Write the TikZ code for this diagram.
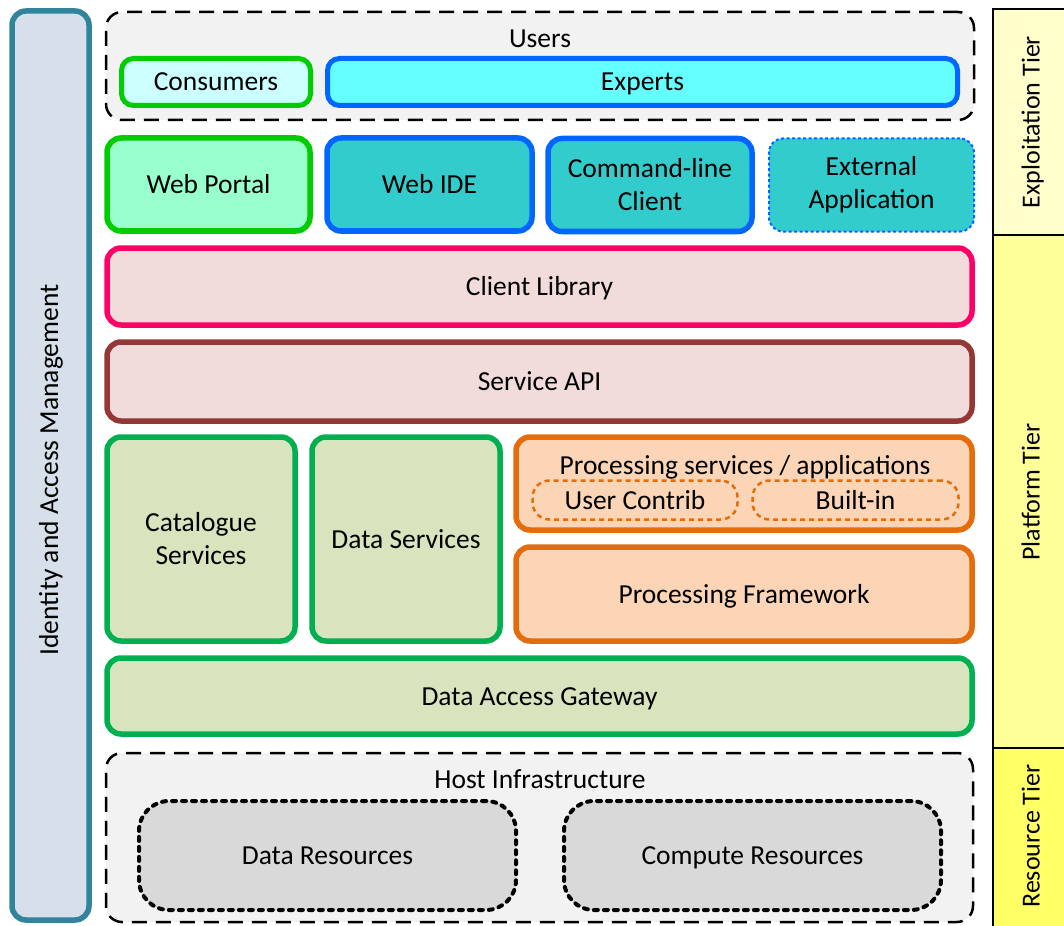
\documentclass[tikz,border=0pt]{standalone}
\usepackage{fontspec}
\setmainfont{Carlito}
\begin{document}
\begin{tikzpicture}[x=1pt,y=-1pt,
  every node/.style={font=\fontsize{27.5}{33}\selectfont, align=center, inner sep=0pt},
  one/.style={text height=18pt, text depth=0pt},
  box/.style={draw, rounded corners=14pt, line width=5.5pt},
  dashbox/.style={draw=black, fill=grey1, rounded corners=16pt, line width=2.5pt, dash pattern=on 15pt off 9pt},
  tier/.style={draw=black, line width=2pt},
  tiertext/.style={rotate=90, font=\fontsize{26}{30}\selectfont, text height=17pt, text depth=0pt}
]
\definecolor{grey1}{HTML}{F2F2F2}
\definecolor{iamfill}{HTML}{D6DFEA}
\definecolor{iamdraw}{HTML}{31849B}
\definecolor{consfill}{HTML}{CCFFFF}
\definecolor{brightgreen}{HTML}{00CC00}
\definecolor{expfill}{HTML}{66FFFF}
\definecolor{blue1}{HTML}{0066FF}
\definecolor{portfill}{HTML}{99FFCC}
\definecolor{tealfill}{HTML}{33CCCC}
\definecolor{pinkfill}{HTML}{F2DCDB}
\definecolor{pinkdraw}{HTML}{FF0066}
\definecolor{browndraw}{HTML}{953735}
\definecolor{greenfill}{HTML}{D7E4BD}
\definecolor{greendraw}{HTML}{00B050}
\definecolor{orfill}{HTML}{FBD5B5}
\definecolor{ordraw}{HTML}{E46C0A}
\definecolor{resfill}{HTML}{D9D9D9}
\definecolor{tierA}{HTML}{FFFFCC}
\definecolor{tierB}{HTML}{FFFF99}
\definecolor{tierC}{HTML}{FFFF66}

\useasboundingbox (0,0) rectangle (1064,925);

% tiers
\path[tier, fill=tierA] (993,9) rectangle (1070,235);
\path[tier, fill=tierB] (993,235) rectangle (1070,748);
\path[tier, fill=tierC] (993,748) rectangle (1070,930);
\node[tiertext] (t1) at (1031,122) {Exploitation Tier};
\node[tiertext] (t2) at (1031,492) {Platform Tier};
\node[tiertext] (t3) at (1031,836) {Resource Tier};

% IAM
\node[box, draw=iamdraw, fill=iamfill, minimum width=77pt, minimum height=909pt] (iam) at (50.5,465.5) {};
\node[rotate=90] (iamt) at (51,470) {Identity and Access Management};

% Users
\node[dashbox, minimum width=868pt, minimum height=108pt] (users) at (540,66) {};
\node[one] (userst) at (540,39) {Users};
\node[one, box, rounded corners=12pt, line width=5pt, draw=brightgreen, fill=consfill, minimum width=189pt, minimum height=47pt] (cons) at (216,82) {Consumers};
\node[one, box, rounded corners=12pt, line width=5pt, draw=blue1, fill=expfill, minimum width=630pt, minimum height=47pt] (exp) at (642.5,82) {Experts};

% clients
\node[one, box, draw=brightgreen, fill=portfill, minimum width=203pt, minimum height=93pt] (portal) at (208.5,184.5) {Web Portal};
\node[one, box, draw=blue1, fill=tealfill, minimum width=205pt, minimum height=93pt] (ide) at (429.5,184.5) {Web IDE};
\node[box, draw=blue1, fill=tealfill, minimum width=204pt, minimum height=93pt] (cli) at (650,185) {Command-line\\Client};
\node[draw=blue1, fill=tealfill, rounded corners=14pt, line width=2pt, dash pattern=on 3pt off 2.5pt, minimum width=205pt, minimum height=93pt] (ext) at (871.5,185) {External\\Application};

% libraries
\node[one, box, draw=pinkdraw, fill=pinkfill, minimum width=865pt, minimum height=77pt] (clib) at (539.5,286.5) {Client Library};
\node[one, box, draw=browndraw, fill=pinkfill, minimum width=865pt, minimum height=79pt] (api) at (539.5,381.5) {Service API};

% services
\node[box, draw=greendraw, fill=greenfill, minimum width=188pt, minimum height=204pt] (cat) at (201,539) {Catalogue\\Services};
\node[one, box, draw=greendraw, fill=greenfill, minimum width=188pt, minimum height=204pt] (data) at (406,539) {Data Services};
\node[box, draw=ordraw, fill=orfill, minimum width=456pt, minimum height=93pt] (proc) at (744,483.5) {};
\node[one] (proct) at (745,465) {Processing services / applications};
\node[one, draw=ordraw, rounded corners=17pt, line width=2.5pt, dash pattern=on 5pt off 4pt, minimum width=205pt, minimum height=39pt] (uc) at (635,500) {User Contrib};
\node[one, draw=ordraw, rounded corners=17pt, line width=2.5pt, dash pattern=on 5pt off 4pt, minimum width=206pt, minimum height=39pt] (bi) at (855.5,500) {Built-in};
\node[one, box, draw=ordraw, fill=orfill, minimum width=456pt, minimum height=94pt] (pf) at (744,594) {Processing Framework};
\node[one, box, draw=greendraw, fill=greenfill, minimum width=865pt, minimum height=76pt] (dag) at (539.5,696) {Data Access Gateway};

% host
\node[dashbox, minimum width=867pt, minimum height=169pt] (host) at (539.5,837.5) {};
\node[one] (hostt) at (540,779) {Host Infrastructure};
\node[one, draw=black, fill=resfill, rounded corners=30pt, line width=4pt, line cap=round, dash pattern=on 4pt off 6pt, minimum width=377pt, minimum height=109pt] (dres) at (327.5,855.5) {Data Resources};
\node[one, draw=black, fill=resfill, rounded corners=30pt, line width=4pt, line cap=round, dash pattern=on 4pt off 6pt, minimum width=377pt, minimum height=109pt] (cres) at (752.5,855.5) {Compute Resources};
\end{tikzpicture}
\end{document}
